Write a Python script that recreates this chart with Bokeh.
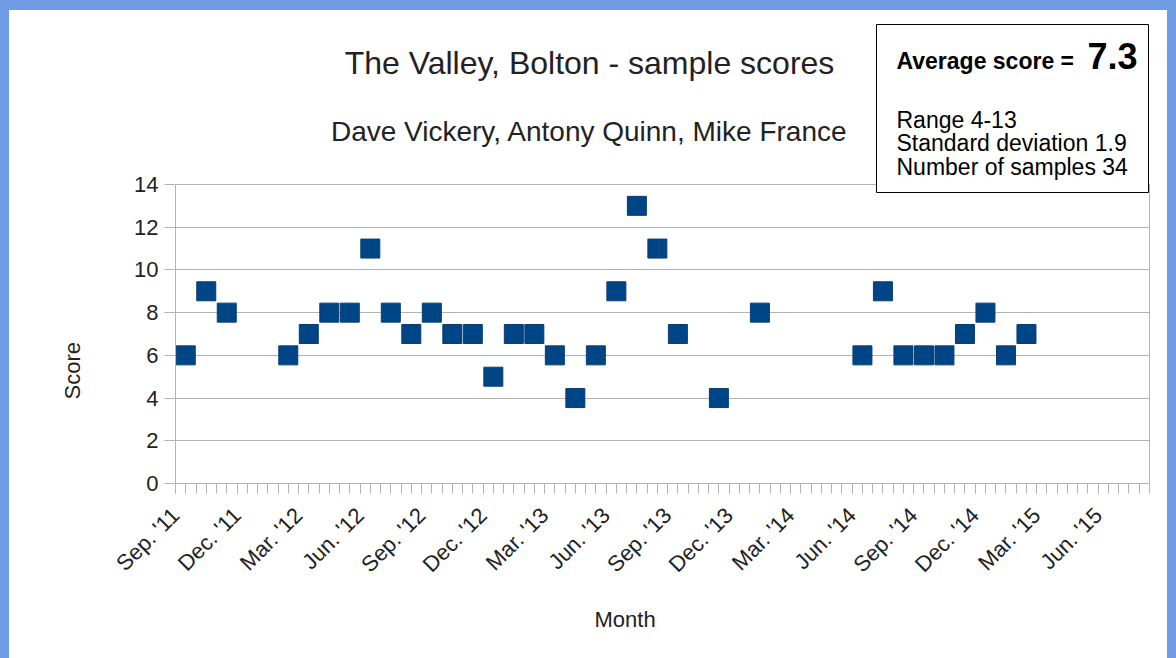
import math
from bokeh.plotting import figure
from bokeh.models import (FixedTicker, Label, BoxAnnotation, Range1d, LinearAxis,
                          Title, ColumnDataSource, GlobalInlineStyleSheet)
from bokeh.embed import file_html
from bokeh.resources import INLINE

# ---------------- data ----------------
months = ["2011-09", "2011-10", "2011-11", "2012-02", "2012-03", "2012-04",
          "2012-05", "2012-06", "2012-07", "2012-08", "2012-09", "2012-10",
          "2012-11", "2012-12", "2013-01", "2013-02", "2013-03", "2013-04",
          "2013-05", "2013-06", "2013-07", "2013-08", "2013-09", "2013-11",
          "2014-01", "2014-06", "2014-07", "2014-08", "2014-09", "2014-10",
          "2014-11", "2014-12", "2015-01", "2015-02"]
scores = [6, 9, 8, 6, 7, 8, 8, 11, 8, 7, 8, 7, 7, 5, 7, 7, 6, 4, 6, 9, 13, 11,
          7, 4, 8, 6, 9, 6, 6, 6, 7, 8, 6, 7]
tick_labels = ["Sep. '11", "Dec. '11", "Mar. '12", "Jun. '12", "Sep. '12",
               "Dec. '12", "Mar. '13", "Jun. '13", "Sep. '13", "Dec. '13",
               "Mar. '14", "Jun. '14", "Sep. '14", "Dec. '14", "Mar. '15",
               "Jun. '15"]
y_ticks = [0, 2, 4, 6, 8, 10, 12, 14]
title_text = "The Valley, Bolton - sample scores"
subtitle_text = "Dave Vickery, Antony Quinn, Mike France"
stats_head = "Average score = "
stats_avg = "7.3"
stats_lines = ["Range 4-13", "Standard deviation 1.9", "Number of samples 34"]
x_title = "Month"
y_title = "Score"


def month_index(s):
    yr, mo = s.split("-")
    return (int(yr) - 2011) * 12 + int(mo) - 9


xs = [month_index(m) + 0.5 for m in months]   # mid-month
major_ticks = [3 * i for i in range(len(tick_labels))]
minor_ticks = [0.5 * i for i in range(96)]

# ---------------- layout (page pixels) ----------------
OFF_X, OFF_Y = 9, 10            # white sheet offset inside blue page
W, H = 1158, 648
PL, PR, PT, PB = 175, 1149, 184, 483   # plot area on the page
X0, X1 = 0, 47.5
Y0, Y1 = 0, 14
Y_TOP = Y1 * (PB - OFF_Y) / (PB - PT)  # frame reaches the top of the sheet
FONT = "Liberation Sans"
TXT = "#222222"
GRID = "#b3b3b3"


def dx(px):
    return X0 + (px - PL) / (PR - PL) * (X1 - X0)


def dy(py):
    return Y0 + (PB - py) / (PB - PT) * (Y1 - Y0)


p = figure(width=W, height=H, x_range=Range1d(X0, X1), y_range=Range1d(Y0, Y_TOP),
           output_backend="svg", toolbar_location=None,
           min_border_left=PL - OFF_X, min_border_right=OFF_X + W - PR,
           min_border_top=0, min_border_bottom=OFF_Y + H - PB)
p.stylesheets = [GlobalInlineStyleSheet(
    css="body { background-color: #6f9ae4; padding: %dpx 0 0 %dpx !important; }" % (OFF_Y, OFF_X))]
p.styles = {"background-color": "white"}
p.title.visible = False
p.background_fill_color = "white"
p.border_fill_color = "white"
p.outline_line_color = None

# axes
xa = p.xaxis[0]
ya = p.yaxis[0]
xa.ticker = FixedTicker(ticks=major_ticks, minor_ticks=minor_ticks)
xa.major_label_overrides = {t: lab for t, lab in zip(major_ticks, tick_labels)}
xa.major_label_orientation = math.pi / 4
ya.ticker = FixedTicker(ticks=y_ticks)
ya.bounds = (Y0, Y1)
for ax in (xa, ya):
    ax.axis_line_color = GRID
    ax.major_tick_line_color = GRID
    ax.minor_tick_line_color = GRID
    ax.major_tick_in = 0
    ax.minor_tick_in = 0
    ax.major_label_text_font = FONT
    ax.major_label_text_font_size = "22px"
    ax.major_label_text_color = TXT
xa.major_tick_out = 10
xa.minor_tick_out = 10
xa.major_label_standoff = 18
ya.major_tick_out = 11
ya.minor_tick_line_color = None
ya.major_label_standoff = 6

# right border of the plot area
p.add_layout(LinearAxis(bounds=(Y0, Y1), ticker=FixedTicker(ticks=[]),
                        axis_line_color=GRID, major_tick_line_color=None,
                        minor_tick_line_color=None, major_label_text_font_size="0px"),
             "right")

p.xgrid.visible = False
p.ygrid.ticker = FixedTicker(ticks=y_ticks)
p.ygrid.grid_line_color = GRID
p.ygrid.grid_line_width = 1

# axis titles (offset measured from the plot-area edge)
p.add_layout(Title(text=y_title, align="left", offset=PB - 399,
                   standoff=94, text_font=FONT, text_font_size="22px",
                   text_font_style="normal", text_color=TXT), "left")
p.add_layout(Title(text=x_title, align="left", offset=594 - PL,
                   standoff=33, text_font=FONT, text_font_size="22px",
                   text_font_style="normal", text_color=TXT), "below")

# data
src = ColumnDataSource(data=dict(x=xs, y=scores))
p.scatter(x="x", y="y", source=src, marker="square", size=19,
          fill_color="#004586", line_color="#0a3d73", line_width=1)

# chart titles
p.add_layout(Label(x=dx(589), y=dy(62), text=title_text, text_align="center",
                   text_baseline="middle", text_font=FONT,
                   text_font_size="32px", text_color=TXT))
p.add_layout(Label(x=dx(589), y=dy(131), text=subtitle_text, text_align="center",
                   text_baseline="middle", text_font=FONT,
                   text_font_size="28px", text_color=TXT))

# stats box
p.add_layout(BoxAnnotation(left=dx(876), right=dx(1148), top=dy(24), bottom=dy(192),
                           fill_color="white", fill_alpha=1.0,
                           line_color="black", line_width=1, line_alpha=1.0))
p.add_layout(Label(x=dx(896), y=dy(60), text=stats_head, text_align="left",
                   text_baseline="middle", text_font=FONT, text_font_style="bold",
                   text_font_size="23px", text_color="black"))
p.add_layout(Label(x=dx(1087), y=dy(55), text=stats_avg, text_align="left",
                   text_baseline="middle", text_font=FONT, text_font_style="bold",
                   text_font_size="36px", text_color="black"))
for i, line in enumerate(stats_lines):
    p.add_layout(Label(x=dx(896), y=dy(119 + 23.5 * i), text=line, text_align="left",
                       text_baseline="middle", text_font=FONT,
                       text_font_size="23px", text_color="black"))

open("out.html", "w").write(file_html(p, INLINE))
